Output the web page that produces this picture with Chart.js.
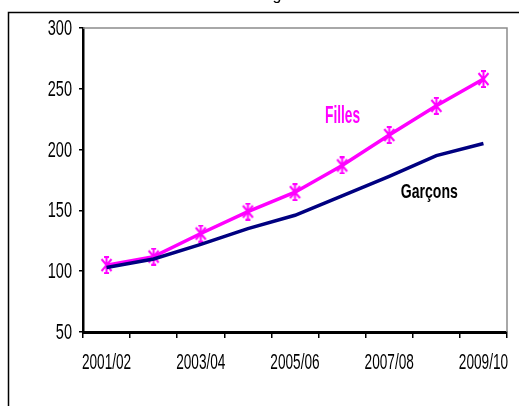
<!DOCTYPE html>
<html>
<head>
<meta charset="utf-8">
<script src="https://cdn.jsdelivr.net/npm/chart.js@4.4.1/dist/chart.umd.min.js"></script>
<style>
  html, body { margin: 0; padding: 0; background: #fff; }
  #wrap { width: 519px; height: 406px; position: relative; }
</style>
</head>
<body>
<div id="wrap"><canvas id="c" width="519" height="406"></canvas></div>
<script>
const categories = ['2001/02','2002/03','2003/04','2004/05','2005/06','2006/07','2007/08','2008/09','2009/10'];
const filles   = [105, 112, 131, 149, 165, 187, 212, 236, 258];
const garcons  = [103, 110, 122, 135, 146, 162, 178, 195, 205];
const yTicks   = [50, 100, 150, 200, 250, 300];
const seriesNames = ['Filles', 'Garçons'];
// label anchor positions in data coordinates (category index, value at text baseline)
const labelAnchors = [[5.01, 221.5], [6.85, 160]];

const FONT = "'Liberation Sans', Arial, sans-serif";

// asterisk-like marker
function makeMarker() {
  const cv = document.createElement('canvas');
  cv.width = 13; cv.height = 18;
  const g = cv.getContext('2d');
  g.strokeStyle = '#FF00FF';
  g.lineWidth = 2;
  g.beginPath();
  g.moveTo(1.5, 3); g.lineTo(11.5, 15);
  g.moveTo(11.5, 3); g.lineTo(1.5, 15);
  g.moveTo(6.5, 1); g.lineTo(6.5, 17);
  g.moveTo(4, 1); g.lineTo(9, 1);
  g.moveTo(4, 17); g.lineTo(9, 17);
  g.stroke();
  return cv;
}
const marker = makeMarker();

function condensedText(ctx, text, x, y, sx, align) {
  ctx.save();
  ctx.translate(x, y);
  ctx.scale(sx, 1);
  ctx.textAlign = align;
  ctx.fillText(text, 0, 0);
  ctx.restore();
}

const framePlugin = {
  id: 'frame',
  beforeDraw(chart) {
    const ctx = chart.ctx;
    ctx.save();
    ctx.fillStyle = '#fff';
    ctx.fillRect(0, 0, chart.width, chart.height);
    // outer frame (cut off at right/bottom)
    ctx.strokeStyle = '#000';
    ctx.lineWidth = 1.5;
    ctx.strokeRect(8.5, 12.5, 600, 500);
    // cut-off title descender
    ctx.fillStyle = '#000';
    ctx.font = "16px " + FONT;
    ctx.textAlign = 'center';
    ctx.textBaseline = 'alphabetic';
    ctx.fillText('g', 277, 0);
    ctx.restore();
  },
  beforeDatasetsDraw(chart) {
    const a = chart.chartArea, ctx = chart.ctx;
    ctx.save();
    ctx.strokeStyle = '#8c8c8c';
    ctx.lineWidth = 1.5;
    ctx.beginPath();
    ctx.moveTo(a.left, a.top);
    ctx.lineTo(a.right, a.top);
    ctx.lineTo(a.right, a.bottom);
    ctx.stroke();
    ctx.restore();
  },
  afterDraw(chart) {
    const ctx = chart.ctx, xs = chart.scales.x, ys = chart.scales.y;
    ctx.save();
    ctx.fillStyle = '#000';
    ctx.font = "22px " + FONT;
    // y tick labels
    ctx.textBaseline = 'middle';
    ys.ticks.forEach((t, i) => {
      condensedText(ctx, String(t.value), xs.left - 11, ys.getPixelForTick(i) + 1, 0.66, 'right');
    });
    // x tick labels (every other category)
    ctx.textBaseline = 'alphabetic';
    categories.forEach((c, i) => {
      if (i % 2 === 0) condensedText(ctx, c, xs.getPixelForTick(i), ys.bottom + 36.5, 0.62, 'center');
    });
    // series labels
    const colors = ['#FF00FF', '#000000'];
    const sizes = [24, 21];
    const sx = [0.57, 0.67];
    seriesNames.forEach((n, i) => {
      ctx.fillStyle = colors[i];
      ctx.font = "bold " + sizes[i] + "px " + FONT;
      condensedText(ctx, n, xs.getPixelForValue(labelAnchors[i][0]), ys.getPixelForValue(labelAnchors[i][1]), sx[i], 'center');
    });
    ctx.restore();
  }
};

new Chart(document.getElementById('c'), {
  type: 'line',
  data: {
    labels: categories,
    datasets: [
      {
        label: seriesNames[1],
        data: garcons,
        borderColor: '#000080',
        borderWidth: 3.5,
        pointRadius: 0,
        tension: 0,
        fill: false
      },
      {
        label: seriesNames[0],
        data: filles,
        borderColor: '#FF00FF',
        backgroundColor: '#FF00FF',
        borderWidth: 3.5,
        pointStyle: marker,
        pointRadius: 7,
        tension: 0,
        fill: false
      }
    ]
  },
  options: {
    responsive: false,
    animation: false,
    devicePixelRatio: 1,
    layout: { padding: { left: 0, top: 28, right: 12, bottom: 0 } },
    plugins: { legend: { display: false }, tooltip: { enabled: false }, title: { display: false } },
    scales: {
      x: {
        type: 'category',
        offset: true,
        grid: { display: true, offset: true, drawOnChartArea: false, drawTicks: true, tickLength: 6, color: '#000', lineWidth: 1.5 },
        border: { display: true, color: '#000', width: 3 },
        ticks: { display: false, autoSkip: false, maxRotation: 0 },
        afterFit(s) { s.height = 74; }
      },
      y: {
        min: 50, max: 300,
        afterBuildTicks(s) { s.ticks = yTicks.map(v => ({ value: v })); },
        grid: { display: true, drawOnChartArea: false, drawTicks: true, tickLength: 4, color: '#000', lineWidth: 1.5 },
        border: { display: true, color: '#000', width: 2.5 },
        ticks: { display: false },
        afterFit(s) { s.width = 83; }
      }
    }
  },
  plugins: [framePlugin]
});
</script>
</body>
</html>
